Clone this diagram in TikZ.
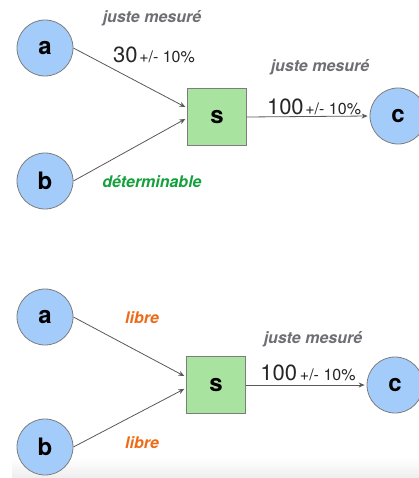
\documentclass[tikz,border=0pt]{standalone}
\usepackage{fontspec}
\setmainfont{TeX Gyre Heros}
\usetikzlibrary{arrows.meta}
\definecolor{nodeblue}{RGB}{164,204,250}
\definecolor{boxgreen}{RGB}{168,228,160}
\definecolor{edgegray}{RGB}{125,125,125}
\definecolor{labgray}{RGB}{110,110,115}
\definecolor{labgreen}{RGB}{20,160,60}
\definecolor{laborange}{RGB}{240,105,20}
\tikzset{
  var/.style={circle, draw=edgegray, line width=0.8pt, fill=nodeblue, minimum size=56pt, inner sep=0pt,
    font=\fontsize{24}{24}\selectfont\bfseries},
  sys/.style={rectangle, draw=edgegray, line width=0.8pt, fill=boxgreen, minimum width=59pt, minimum height=57pt, inner sep=0pt,
    font=\fontsize{24}{24}\selectfont\bfseries},
  flow/.style={draw=black!65, line width=0.8pt, -{Stealth[length=6pt,width=5pt]}, shorten >=2pt},
  status/.style={font=\fontsize{16}{16}\selectfont\bfseries\itshape, inner sep=0pt},
  valtxt/.style={inner sep=0pt, text=black!85}
}
\newcommand{\bigval}[1]{{\fontsize{22}{22}\selectfont #1}}
\newcommand{\smallval}[1]{{\fontsize{16}{16}\selectfont #1}}
\begin{document}
\begin{tikzpicture}[x=1pt,y=-1pt]
\useasboundingbox (0,0) rectangle (419,478);
\clip (0,0) rectangle (419,478);
\fill[white] (0,0) rectangle (419,478);
\shade[top color=white, bottom color=black!7] (12,458) rectangle (419,478);

% top diagram
\node[var] (a1) at (45,48) {a};
\node[var] (b1) at (45,181) {b};
\node[sys] (s1) at (217,117) {s};
\node[var] (c1) at (398,116) {c};
\draw[flow] (a1.east) -- ([yshift=9pt]s1.west);
\draw[flow] (b1.east) -- ([yshift=-1pt]s1.west);
\draw[flow] (s1.east) -- (c1.west);
\node[status, text=labgray] (t1) at (152,18) {juste mesuré};
\node[valtxt] (v1) at (154,55) {\bigval{30}\,\smallval{+/- 10\%}};
\node[status, text=labgreen] (d1) at (152,182) {déterminable};
\node[status, text=labgray] (t2) at (320,67) {juste mesuré};
\node[valtxt] (v2) at (314,107) {\bigval{100}\,\smallval{+/- 10\%}};

% bottom diagram
\node[var] (a2) at (45,317) {a};
\node[var] (b2) at (45,447) {b};
\node[sys] (s2) at (216,385) {s};
\node[var] (c2) at (395,385) {c};
\draw[flow] (a2.east) -- ([yshift=8pt]s2.west);
\draw[flow] (b2.east) -- ([yshift=-3pt]s2.west);
\draw[flow] (s2.east) -- (c2.west);
\node[status, text=laborange] (l1) at (142,318) {libre};
\node[status, text=laborange] (l2) at (142,443) {libre};
\node[status, text=labgray] (t3) at (313,339) {juste mesuré};
\node[valtxt] (v3) at (308,373) {\bigval{100}\ \smallval{+/- 10\%}};
\end{tikzpicture}
\end{document}
